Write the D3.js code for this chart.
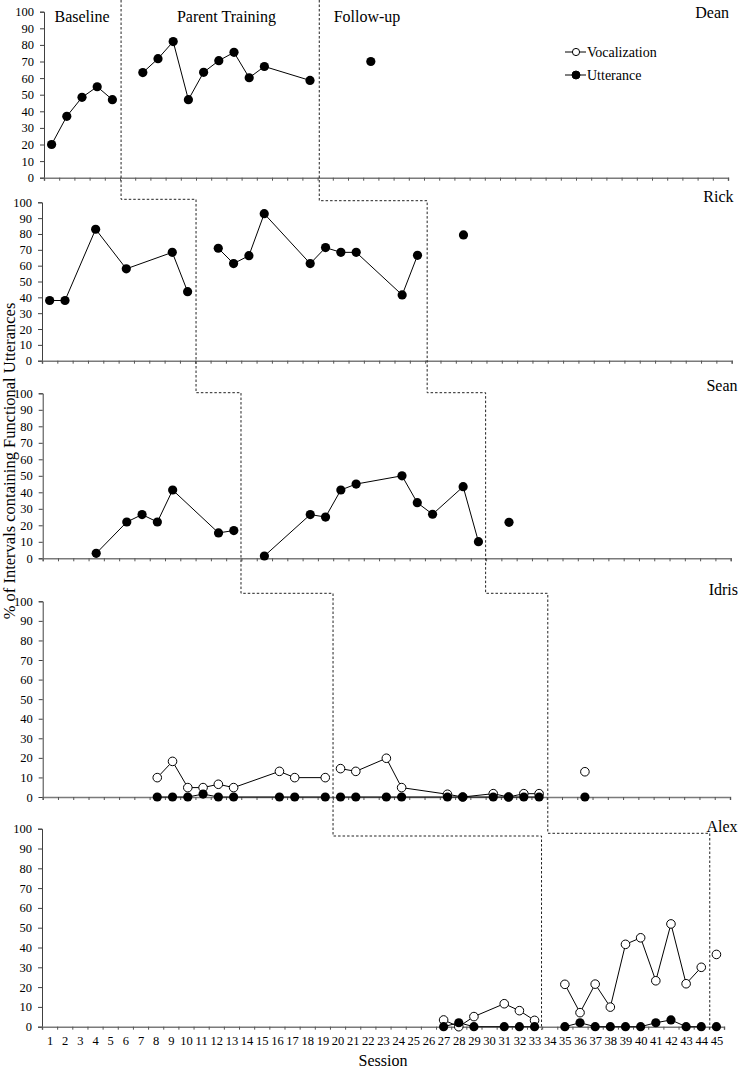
<!DOCTYPE html>
<html><head><meta charset="utf-8">
<script src="https://cdn.jsdelivr.net/npm/d3@7"></script>
<style>
body{margin:0;background:#fff}
svg{display:block;font-family:"Liberation Serif","Times New Roman",serif}
svg text{font-family:"Liberation Serif","Times New Roman",serif !important}
</style>
</head><body>
<svg id="chart" width="740" height="1068"></svg>
<script>
// ---------- DATA ----------
const sessionLabels = ["1","2","3","4","5","6","7","8","9","10","11","12","13","14","15","16","17","18","19","20","21","22","23","24","25","26","27","28","29","30","31","32","33","34","35","36","37","38","39","40","41","42","43","44","45"];
const yTickValues = [0,10,20,30,40,50,60,70,80,90,100];
const phaseNames = ["Baseline","Parent Training","Follow-up"];
const seriesNames = ["Vocalization","Utterance"];
const participants = ["Dean","Rick","Sean","Idris","Alex"];

const deanSessions  = [1,2,3,4,5,7,8,9,10,11,12,13,14,15,18,22];
const deanUtterance = [20,37,48.4,54.8,47,63.3,71.7,82,47,63.5,70.5,75.5,60.2,67,58.6,70];
const deanPhaseChanges = [5.57,18.61];

const rickSessions  = [1,2,4,6,9,10,12,13,14,15,18,19,20,21,24,25,28];
const rickUtterance = [38,38,83,58,68.4,43.6,71,61.3,66.3,92.8,61.3,71.4,68.4,68.4,41.5,66.5,79.4];
const rickPhaseChanges = [10.55,25.63];

const seanSessions  = [4,6,7,8,9,12,13,15,18,19,20,21,24,25,26,28,29,31];
const seanUtterance = [3,22,26.5,22,41.4,15.4,16.8,1.4,26.5,25,41.4,45,50,33.7,26.7,43.4,10.1,21.8];
const seanPhaseChanges = [13.47,29.47];

const idrisSessions     = [8,9,10,11,12,13,16,17,19,20,21,23,24,27,28,30,31,32,33,36];
const idrisVocalization = [9.9,18.2,4.8,4.8,6.5,4.8,13.1,9.9,9.9,14.5,13.1,19.8,4.8,1.4,0,1.7,0,1.7,1.7,12.9];
const idrisUtterance    = [0,0,0,1.5,0,0,0,0,0,0,0,0,0,0,0,0,0,0,0,0];
const idrisPhaseChanges = [19.51,33.57];

const alexSessions     = [27,28,29,31,32,33,35,36,37,38,39,40,41,42,43,44,45];
const alexVocalization = [3.4,0,5.1,11.6,8.1,3.2,21.4,7.1,21.5,9.9,41.6,44.9,23.2,51.9,21.7,30,36.5];
const alexUtterance    = [0,2,0,0,0,0,0,2,0,0,0,0,2,3.4,0,0,0];
const alexPhaseChanges = [33.46,44.56];

// ---------- LAYOUT ----------
const panels = [
  {name:participants[0], x0:44,   x1:728,   top:11.7,  bottom:177.7,  nameX:729,   nameY:18,
   sessions:deanSessions, voc:null, utt:deanUtterance, phases:deanPhaseChanges},
  {name:participants[1], x0:42,   x1:731.7, top:202.3, bottom:360.7,  nameX:733.5, nameY:202,
   sessions:rickSessions, voc:null, utt:rickUtterance, phases:rickPhaseChanges},
  {name:participants[2], x0:42.7, x1:730.7, top:393.3, bottom:558.3,  nameX:737.5, nameY:391,
   sessions:seanSessions, voc:null, utt:seanUtterance, phases:seanPhaseChanges},
  {name:participants[3], x0:42.7, x1:730,   top:601.3, bottom:797,    nameX:738,   nameY:595,
   sessions:idrisSessions, voc:idrisVocalization, utt:idrisUtterance, phases:idrisPhaseChanges},
  {name:participants[4], x0:42,   x1:724,   top:828.7, bottom:1026.7, nameX:737.5, nameY:832,
   sessions:alexSessions, voc:alexVocalization, utt:alexUtterance, phases:alexPhaseChanges}
];
const joinY = [[199.3,392.7,593.3,836],[200.7,392.7,593.3,833.3]];
const FONT = '"Liberation Serif","Times New Roman",serif';

const svg = d3.select("#chart");
const edges = d3.range(0, sessionLabels.length + 1).map(i => i + 0.5);

panels.forEach((p, pi) => {
  p.x = d3.scaleLinear().domain([0.5, sessionLabels.length + 0.5]).range([p.x0, p.x1]);
  p.y = d3.scaleLinear().domain([0, 100]).range([p.bottom, p.top]);
  const g = svg.append("g");

  // y axis
  const ya = g.append("g").attr("transform", `translate(${p.x0},0)`)
    .call(d3.axisLeft(p.y).tickValues(yTickValues).tickSize(4).tickPadding(6));
  ya.attr("font-family", FONT);
  ya.select(".domain").attr("stroke", "#404040");
  ya.selectAll(".tick line").attr("stroke", "#404040");
  ya.selectAll("text").attr("font-size", 12.5).style("font-family", FONT).attr("fill", "#000");

  // x axis (ticks at category edges)
  const xa = g.append("g").attr("transform", `translate(0,${p.bottom})`)
    .call(d3.axisBottom(p.x).tickValues(edges).tickSize(3).tickFormat(""));
  xa.select(".domain").attr("stroke", "#7a7a7a").attr("stroke-width", 1.5);
  xa.selectAll(".tick line").attr("stroke", "#555");

  if (pi === panels.length - 1) {
    const xl = g.append("g").attr("transform", `translate(0,${p.bottom})`)
      .call(d3.axisBottom(p.x).tickValues(sessionLabels.map(Number)).tickSize(0).tickPadding(9)
        .tickFormat((d, i) => sessionLabels[i]));
    xl.attr("font-family", FONT);
    xl.select(".domain").remove();
    xl.selectAll("text").attr("font-size", 12.5).style("font-family", FONT).attr("fill", "#000");
  }

  // participant name
  g.append("text").attr("x", p.nameX).attr("y", p.nameY).attr("text-anchor", "end")
    .attr("font-size", 16).text(p.name);

  // data series, split into phases
  const pts = p.sessions.map((s, i) => ({s, v: p.voc ? p.voc[i] : null, u: p.utt[i]}));
  const phaseOf = s => s < p.phases[0] ? 0 : (s < p.phases[1] ? 1 : 2);
  const groups = d3.groups(pts, d => phaseOf(d.s)).map(d => d[1]);

  if (p.voc) {
    const lv = d3.line().x(d => p.x(d.s)).y(d => p.y(d.v));
    groups.forEach(gr => {
      g.append("path").attr("d", lv(gr)).attr("fill", "none").attr("stroke", "#000").attr("stroke-width", 1);
    });
    g.selectAll("circle.voc").data(pts).join("circle").attr("class", "voc")
      .attr("cx", d => p.x(d.s)).attr("cy", d => p.y(d.v)).attr("r", 4.3)
      .attr("fill", "#fff").attr("stroke", "#000").attr("stroke-width", 1);
  }
  const lu = d3.line().x(d => p.x(d.s)).y(d => p.y(d.u));
  groups.forEach(gr => {
    g.append("path").attr("d", lu(gr)).attr("fill", "none").attr("stroke", "#000").attr("stroke-width", 1);
  });
  g.selectAll("circle.utt").data(pts).join("circle").attr("class", "utt")
    .attr("cx", d => p.x(d.s)).attr("cy", d => p.y(d.u)).attr("r", 4.6)
    .attr("fill", "#000");
});

// phase change lines (staircase)
[0, 1].forEach(k => {
  const path = d3.path();
  const xs = panels.map(p => p.x(p.phases[k]));
  path.moveTo(xs[0], 0);
  for (let i = 0; i < panels.length - 1; i++) {
    path.lineTo(xs[i], joinY[k][i]);
    path.lineTo(xs[i + 1], joinY[k][i]);
  }
  path.lineTo(xs[panels.length - 1], panels[panels.length - 1].bottom + 3);
  svg.append("path").attr("d", path.toString()).attr("fill", "none")
    .attr("stroke", "#222").attr("stroke-width", 1).attr("stroke-dasharray", "2.5,2");
});

// phase titles
const titleX = [82, 226.5, 367];
phaseNames.forEach((t, i) => {
  svg.append("text").attr("x", titleX[i]).attr("y", 22).attr("text-anchor", "middle")
    .attr("font-size", 16).text(t);
});

// legend
const legend = svg.append("g");
seriesNames.forEach((n, i) => {
  const cy = 52 + i * 23;
  legend.append("line").attr("x1", 565).attr("x2", 586).attr("y1", cy).attr("y2", cy)
    .attr("stroke", "#000").attr("stroke-width", 1);
  legend.append("circle").attr("cx", 576).attr("cy", cy).attr("r", i === 0 ? 3.6 : 4)
    .attr("fill", i === 0 ? "#fff" : "#000").attr("stroke", "#000").attr("stroke-width", 1);
  legend.append("text").attr("x", 587).attr("y", cy + 5).attr("font-size", 14).text(n);
});

// axis titles
svg.append("text").attr("transform", "translate(15,461) rotate(-90)").attr("text-anchor", "middle")
  .attr("font-size", 16.5).text("% of Intervals containing Functional Utterances");
svg.append("text").attr("x", 383).attr("y", 1066).attr("text-anchor", "middle")
  .attr("font-size", 16).text("Session");
</script>
</body></html>
